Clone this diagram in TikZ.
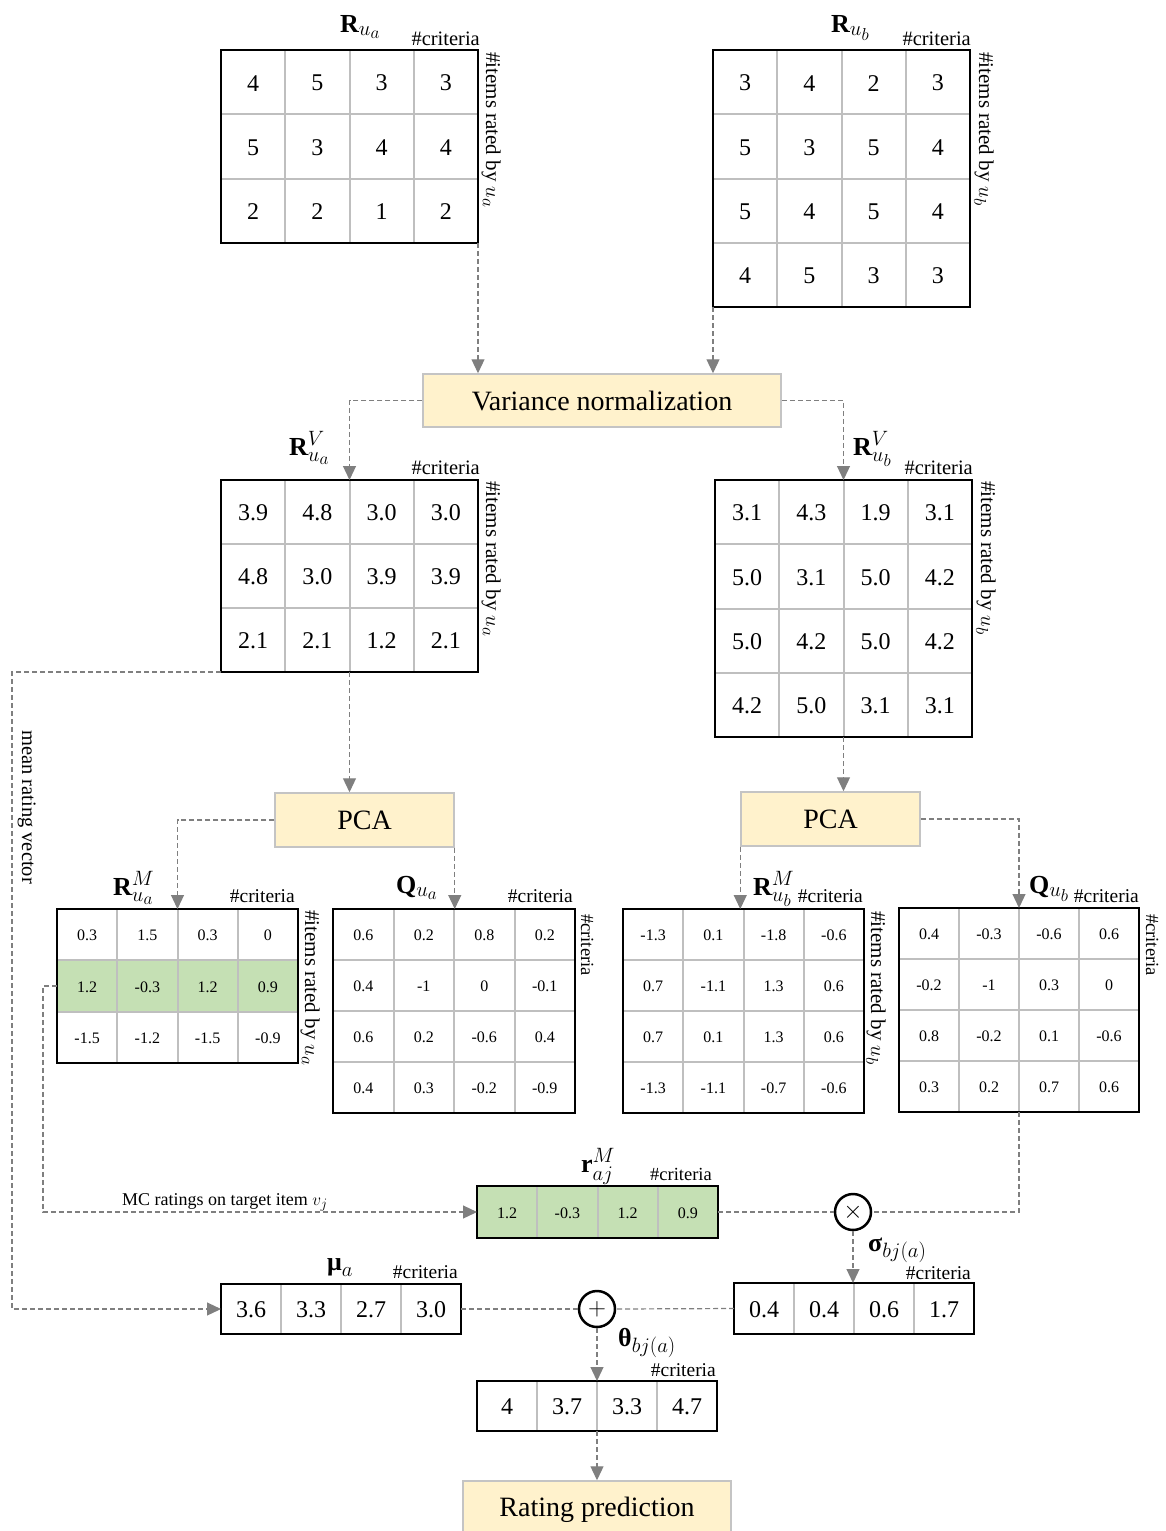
\documentclass[tikz,border=0pt]{standalone}
\usepackage{amsmath}
\usepackage{fontspec}
\setmainfont{Liberation Serif}
\usetikzlibrary{arrows.meta}
\DeclareMathSizes{26}{26}{20}{17}
\DeclareMathSizes{21}{21}{16}{13}
\DeclareMathSizes{18}{18}{14}{11}
\definecolor{boxfill}{HTML}{FFF2CC}
\definecolor{boxline}{HTML}{C4C4C4}
\definecolor{gridc}{HTML}{BFBFBF}
\definecolor{greenc}{HTML}{C5E0B4}
\definecolor{flowc}{HTML}{7F7F7F}

\newcommand{\mymat}[9]{%
  % #1 name, #2 x0, #3 y0, #4 cell width, #5 cell height, #6 cols, #7 rows, #8 font size, #9 rows of values
  \pgfmathtruncatemacro\mync{#6-1}%
  \pgfmathtruncatemacro\mynr{#7-1}%
  \foreach \k in {1,...,\mync} {\draw[gridline] ({#2+\k*#4},#3) -- ({#2+\k*#4},{#3+#7*#5});}%
  \ifnum\mynr>0
    \foreach \k in {1,...,\mynr} {\draw[gridline] (#2,{#3+\k*#5}) -- ({#2+#6*#4},{#3+\k*#5});}%
  \fi
  \node[matbox, anchor=north west, minimum width={#6*#4*1pt}, minimum height={#7*#5*1pt}] (#1) at (#2,#3) {};%
  \foreach \row [count=\i] in {#9} {%
    \foreach \v [count=\j] in \row {%
      \node[font=\fontsize{#8}{#8}\selectfont] (#1-\i-\j) at ({#2+(\j-0.5)*#4},{#3+(\i-0.5)*#5+1}) {\v};%
    }%
  }%
}

\begin{document}
\begin{tikzpicture}[x=1pt,y=-1pt,
  gridline/.style={draw=gridc, line width=2pt},
  matbox/.style={draw=black, line width=2.6pt, outer sep=0pt, inner sep=0pt},
  flow/.style={draw=flowc, line width=1.2pt, dash pattern=on 5pt off 3pt},
  arr/.style={flow, -{Triangle[length=14pt,width=13pt,fill=flowc]}},
  proc/.style={draw=boxline, fill=boxfill, line width=1.5pt, inner sep=0pt, font=\fontsize{28}{32}\selectfont},
  ops/.style={circle, draw=black, line width=2.5pt, minimum size=36pt, inner sep=0pt, fill=white},
  crit/.style={font=\fontsize{19.5}{20}\selectfont, anchor=base east, inner sep=0pt},
  vlab/.style={font=\fontsize{21}{22}\selectfont, rotate=-90, anchor=base west, inner sep=0pt},
  mlab/.style={font=\fontsize{26}{28}\selectfont, anchor=base west, inner sep=0pt}]
\useasboundingbox (0,0) rectangle (1166,1531);
\clip (0,0) rectangle (1166,1531);

% ---------- top matrices ----------
\mymat{Rua}{221}{50}{64.25}{64.3}{4}{3}{24}{{4,5,3,3},{5,3,4,4},{2,2,1,2}}
\mymat{Rub}{713}{50}{64.25}{64.25}{4}{4}{24}{{3,4,2,3},{5,3,5,4},{5,4,5,4},{4,5,3,3}}
\node[mlab] (lRua) at (340,32) {$\mathbf{R}_{u_a}$};
\node[mlab] (lRub) at (831,32) {$\mathbf{R}_{u_b}$};
\node[crit, font=\fontsize{20.5}{22}\selectfont] (cRua) at (480,45) {\#criteria};
\node[crit, font=\fontsize{20.5}{22}\selectfont] (cRub) at (971,45) {\#criteria};
\node[vlab] (vRua) at (486,52) {\#items rated by $u_a$};
\node[vlab] (vRub) at (979,52) {\#items rated by $u_b$};

% ---------- variance normalization ----------
\node[proc, minimum width=358pt, minimum height=53pt] (VN) at (602,400.5) {Variance normalization};

\mymat{RVa}{221}{480}{64.25}{64}{4}{3}{24}{{3.9,4.8,3.0,3.0},{4.8,3.0,3.9,3.9},{2.1,2.1,1.2,2.1}}
\mymat{RVb}{715}{480}{64.25}{64.25}{4}{4}{24}{{3.1,4.3,1.9,3.1},{5.0,3.1,5.0,4.2},{5.0,4.2,5.0,4.2},{4.2,5.0,3.1,3.1}}
\node[mlab] (lRVa) at (289,455) {$\mathbf{R}^{V}_{u_a}$};
\node[mlab] (lRVb) at (853,455) {$\mathbf{R}^{V}_{u_b}$};
\node[crit, font=\fontsize{20.5}{22}\selectfont] (cRVa) at (480,474) {\#criteria};
\node[crit, font=\fontsize{20.5}{22}\selectfont] (cRVb) at (973,474) {\#criteria};
\node[vlab] (vRVa) at (486,481) {\#items rated by $u_a$};
\node[vlab] (vRVb) at (981,481) {\#items rated by $u_b$};

% ---------- PCA ----------
\node[proc, minimum width=179pt, minimum height=54pt] (PCAa) at (364.5,820) {PCA};
\node[proc, minimum width=179pt, minimum height=54pt] (PCAb) at (830.5,819) {PCA};

\fill[greenc] (57,960.3) rectangle (298,1011.6);
\mymat{RMa}{57}{909}{60.25}{51.3}{4}{3}{16}{{0.3,1.5,0.3,0},{1.2,-0.3,1.2,0.9},{-1.5,-1.2,-1.5,-0.9}}
\mymat{Qa}{333}{909}{60.5}{51}{4}{4}{16}{{0.6,0.2,0.8,0.2},{0.4,-1,0,-0.1},{0.6,0.2,-0.6,0.4},{0.4,0.3,-0.2,-0.9}}
\mymat{RMb}{623}{909}{60.25}{51}{4}{4}{16}{{-1.3,0.1,-1.8,-0.6},{0.7,-1.1,1.3,0.6},{0.7,0.1,1.3,0.6},{-1.3,-1.1,-0.7,-0.6}}
\mymat{Qb}{899}{908}{60}{51}{4}{4}{16}{{0.4,-0.3,-0.6,0.6},{-0.2,-1,0.3,0},{0.8,-0.2,0.1,-0.6},{0.3,0.2,0.7,0.6}}
\node[mlab] (lRMa) at (113,895) {$\mathbf{R}^{M}_{u_a}$};
\node[mlab] (lQa) at (396,893) {$\mathbf{Q}_{u_a}$};
\node[mlab] (lRMb) at (753,895) {$\mathbf{R}^{M}_{u_b}$};
\node[mlab] (lQb) at (1029,893) {$\mathbf{Q}_{u_b}$};
\node[crit] (cRMa) at (295,902) {\#criteria};
\node[crit] (cQa) at (573,902) {\#criteria};
\node[crit] (cRMb) at (863,902) {\#criteria};
\node[crit] (cQb) at (1139,902) {\#criteria};
\node[vlab] (vRMa) at (305,910) {\#items rated by $u_a$};
\node[vlab] (vRMb) at (871,911) {\#items rated by $u_b$};
\node[vlab, font=\fontsize{18.5}{20}\selectfont] (vQa) at (581,914) {\#criteria};
\node[vlab, font=\fontsize{18.5}{20}\selectfont] (vQb) at (1146,914) {\#criteria};

% ---------- target item ratings ----------
\fill[greenc] (477,1186) rectangle (718,1238);
\mymat{raj}{477}{1186}{60.25}{52}{4}{1}{16}{{1.2,-0.3,1.2,0.9}}
\node[mlab] (lraj) at (581,1172) {$\mathbf{r}^{M}_{aj}$};
\node[crit, font=\fontsize{18.5}{20}\selectfont] (craj) at (712,1180) {\#criteria};
\node[font=\fontsize{18}{20}\selectfont, anchor=base west, inner sep=0pt] (mct) at (122,1205) {MC ratings on target item $v_j$};

% ---------- mean, sigma, theta ----------
\mymat{mu}{221}{1284}{60}{50}{4}{1}{24}{{3.6,3.3,2.7,3.0}}
\mymat{sig}{734}{1283}{60}{51}{4}{1}{24}{{0.4,0.4,0.6,1.7}}
\mymat{th}{477}{1381}{60}{50}{4}{1}{24}{{4,3.7,3.3,4.7}}
\node[mlab] (lmu) at (327,1270) {$\textbf{μ}_{a}$};
\node[mlab] (lsig) at (868,1251) {$\textbf{σ}_{bj(a)}$};
\node[mlab] (lth) at (618,1346) {$\textbf{θ}_{bj(a)}$};
\node[crit] (cmu) at (458,1278) {\#criteria};
\node[crit] (csig) at (971,1279) {\#criteria};
\node[crit] (cth) at (716,1376) {\#criteria};

\node[proc, minimum width=268pt, minimum height=58pt] (RP) at (597,1510) {Rating prediction};

% ---------- operators ----------
\node[ops] (ot) at (853,1212) {\fontsize{24}{24}\selectfont$\times$};
\node[ops] (op) at (597,1309) {\fontsize{24}{24}\selectfont$+$};

\node[vlab, font=\fontsize{20.5}{22}\selectfont] (mrv) at (22,730) {mean rating vector};

% ---------- connectors ----------
\coordinate (mr) at (12,671);
\coordinate (gr) at (43,987);
\draw[arr] (Rua.south east) -- (Rua.south east |- VN.north);
\draw[arr] (Rub.south west) -- (Rub.south west |- VN.north);
\draw[arr] (VN.west) -| (RVa.north);
\draw[arr] (VN.east) -| (RVb.north);
\draw[arr] (RVa.south) -- (RVa.south |- PCAa.north);
\draw[arr] (RVb.south) -- (RVb.south |- PCAb.north);
\draw[arr] (PCAa.west) -| (RMa.north);
\draw[arr] (PCAa.south east) -- (PCAa.south east |- Qa.north);
\draw[arr] (PCAb.south west) -- (PCAb.south west |- RMb.north);
\draw[arr] (PCAb.east) -| (Qb.north);
\draw[arr] (RVa.south west) -- (RVa.south west -| mr) -- (mr |- mu.west) -- (mu.west);
\draw[arr] (RMa.west) -- (RMa.west -| gr) -- (gr |- raj.west) -- (raj.west);
\draw[flow] (raj.east) -- (ot.west);
\draw[flow] (Qb.south) -- (Qb.south |- ot.east) -- (ot.east);
\draw[arr] (ot.south) -- (ot.south |- sig.north);
\draw[flow] (mu.east) -- (op.west);
\draw[flow] (sig.west) -- (op.east);
\draw[arr] (op.south) -- (op.south |- th.north);
\draw[arr] (th.south) -- (th.south |- RP.north);
\end{tikzpicture}
\end{document}
